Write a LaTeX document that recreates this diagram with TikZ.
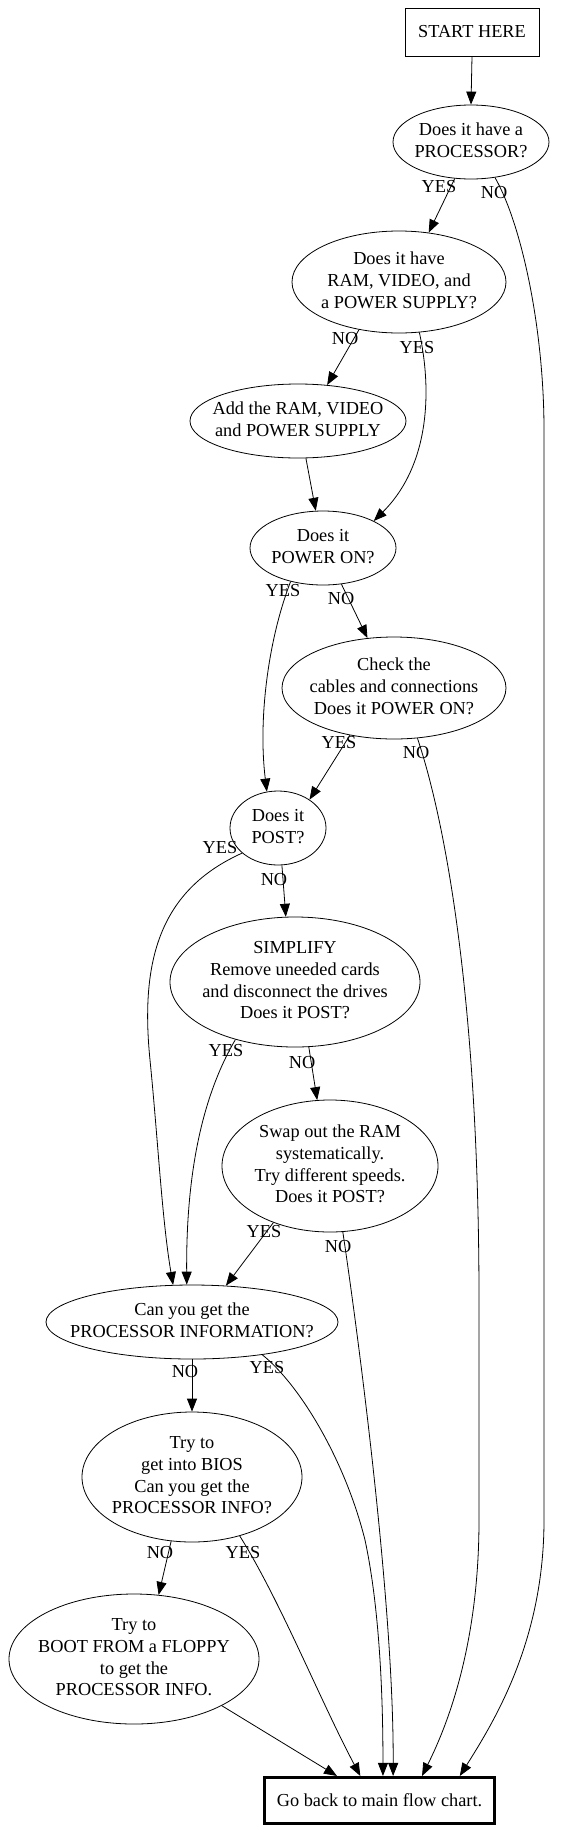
\documentclass[tikz,border=0pt]{standalone}
\usepackage{fontspec}
\setmainfont{Liberation Serif}
\usetikzlibrary{shapes.geometric,arrows.meta}
\newcommand\stk[1]{\makebox[0pt]{\begin{tabular}{@{}c@{}}#1\end{tabular}}}
\begin{document}
\begin{tikzpicture}[x=1pt,y=-1pt,font=\fontsize{18.3}{21.7}\selectfont,
  ell/.style={draw, ellipse, inner sep=0pt, line width=0.8pt},
  boxnode/.style={draw, rectangle, inner sep=0pt, line width=0.8pt},
  lbl/.style={inner sep=0pt},
  conn/.style={-{Triangle[length=13pt,width=10pt]}, line width=0.8pt}]
\fill[white] (0,0) rectangle (564,1831);
\useasboundingbox (0,0) rectangle (564,1831);

% nodes
\node[boxnode, minimum width=134pt, minimum height=48pt] (start) at (472,32) {START HERE};
\node[ell, minimum width=156pt, minimum height=74pt] (proc) at (471,142) {\stk{Does it have a\\PROCESSOR?}};
\node[ell, minimum width=214pt, minimum height=102pt] (ram) at (399,282) {\stk{Does it have\\RAM, VIDEO, and\\a POWER SUPPLY?}};
\node[ell, minimum width=216pt, minimum height=74pt] (add) at (298,421) {\stk{Add the RAM, VIDEO\\and POWER SUPPLY}};
\node[ell, minimum width=146pt, minimum height=74pt] (pon) at (323,548) {\stk{Does it\\POWER ON?}};
\node[ell, minimum width=224pt, minimum height=102pt] (check) at (394,688) {\stk{Check the\\cables and connections\\Does it POWER ON?}};
\node[ell, minimum width=96pt, minimum height=74pt] (post) at (278,828) {\stk{Does it\\POST?}};
\node[ell, minimum width=250pt, minimum height=130pt] (simp) at (295,982) {\stk{SIMPLIFY\\Remove uneeded cards\\and disconnect the drives\\Does it POST?}};
\node[ell, minimum width=216pt, minimum height=132pt] (swap) at (330,1166) {\stk{Swap out the RAM\\systematically.\\Try different speeds.\\Does it POST?}};
\node[ell, minimum width=292pt, minimum height=74pt] (pinfo) at (192,1322) {\stk{Can you get the\\PROCESSOR INFORMATION?}};
\node[ell, minimum width=220pt, minimum height=130pt] (bios) at (192,1477) {\stk{Try to\\get into BIOS\\Can you get the\\PROCESSOR INFO?}};
\node[ell, minimum width=250pt, minimum height=130pt] (floppy) at (134,1659) {\stk{Try to\\BOOT FROM a FLOPPY\\to get the\\PROCESSOR INFO.}};
\node[boxnode, line width=2.6pt, minimum width=230.5pt, minimum height=46.5pt] (goback) at (379.5,1800.5) {Go back to main flow chart.};

% connectors
\draw[conn] (start.south) -- (proc.north);
\draw[conn] (proc.-114) -- (ram.59);
\draw[conn] (proc.-56) .. controls (522,225) and (544,330) .. (544,430) -- (544,1520) .. controls (544,1640) and (495,1720) .. (goback.17);
\draw[conn] (ram.-130) -- (add.51);
\draw[conn] (ram.-68) .. controls (432,390) and (430,465) .. (pon.28);
\draw[conn] (add.-78) -- (pon.101);
\draw[conn] (pon.-134) .. controls (268,640) and (258,720) .. (post.107);
\draw[conn] (pon.-63) -- (check.118);
\draw[conn] (check.-133) -- (post.42);
\draw[conn] (check.-65) .. controls (445,820) and (479,1000) .. (479,1300) -- (479,1520) .. controls (479,1640) and (450,1720) .. (goback.30.6);
\draw[conn] (post.-145) .. controls (160,890) and (140,960) .. (150,1060) .. controls (158,1140) and (162,1220) .. (pinfo.117);
\draw[conn] (post.-84) -- (simp.98);
\draw[conn] (simp.-136) .. controls (200,1100) and (186,1180) .. (pinfo.98);
\draw[conn] (simp.-78) -- (swap.101);
\draw[conn] (swap.-135.5) -- (pinfo.47.5);
\draw[conn] (swap.-79) .. controls (356,1320) and (394,1600) .. (goback.61);
\draw[conn] (pinfo.south) -- (bios.north);
\draw[conn] (pinfo.-25) .. controls (300,1385) and (345,1460) .. (365,1540) .. controls (380,1610) and (383,1700) .. (goback.82);
\draw[conn] (bios.-108) -- (floppy.69);
\draw[conn] (bios.-51) .. controls (280,1600) and (320,1700) .. (goback.128);
\draw[conn] (floppy.-28) -- (goback.150);

% labels
\node[lbl] (l1) at (439,187) {YES};
\node[lbl] (l2) at (494,193) {NO};
\node[lbl] (l3) at (345,339) {NO};
\node[lbl] (l4) at (417,348) {YES};
\node[lbl] (l5) at (283,591) {YES};
\node[lbl] (l6) at (341,599) {NO};
\node[lbl] (l7) at (339,743) {YES};
\node[lbl] (l8) at (416,753) {NO};
\node[lbl] (l9) at (220,848) {YES};
\node[lbl] (l10) at (274,880) {NO};
\node[lbl] (l11) at (226,1051) {YES};
\node[lbl] (l12) at (302,1063) {NO};
\node[lbl] (l13) at (264,1232) {YES};
\node[lbl] (l14) at (338,1247) {NO};
\node[lbl] (l15) at (185,1372) {NO};
\node[lbl] (l16) at (267,1368) {YES};
\node[lbl] (l17) at (160,1553) {NO};
\node[lbl] (l18) at (243,1553) {YES};
\end{tikzpicture}
\end{document}
